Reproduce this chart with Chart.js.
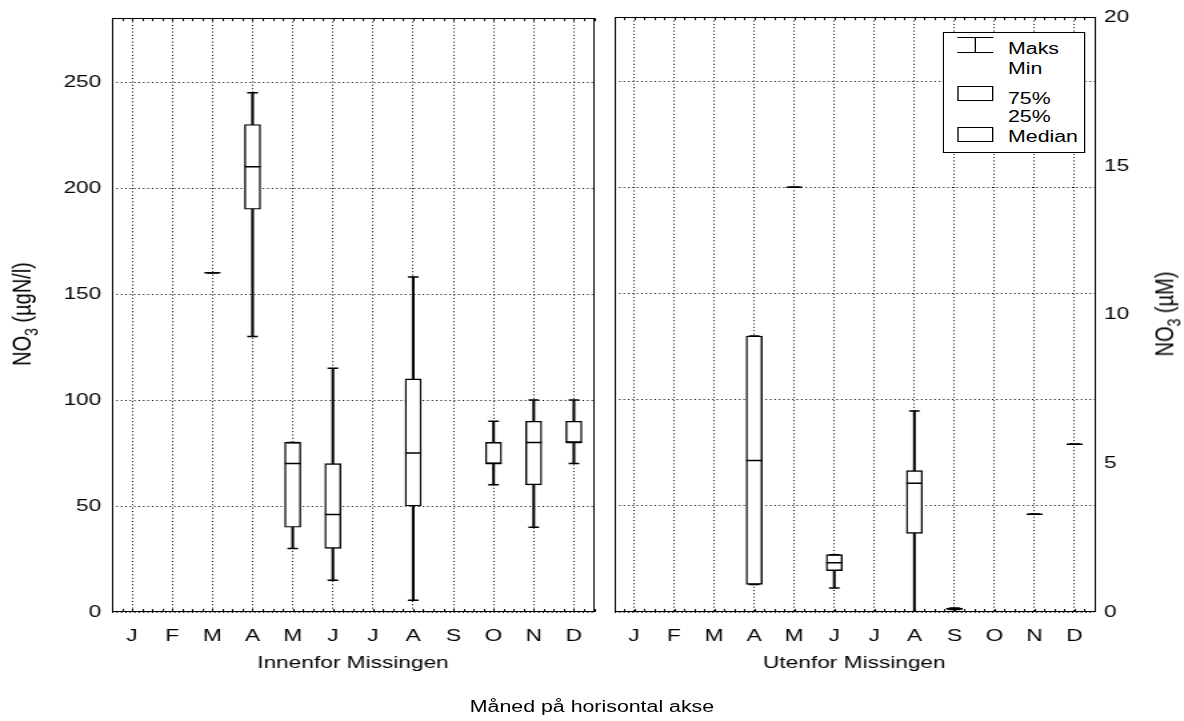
<!DOCTYPE html>
<html><head><meta charset="utf-8">
<script src="https://cdn.jsdelivr.net/npm/chart.js@4.4.0/dist/chart.umd.min.js"></script>
<style>
html,body{margin:0;padding:0;background:#fff;overflow:hidden;width:1184px;height:721px;}
#wrap{position:absolute;left:0;top:0;width:888px;height:721px;transform:scaleX(1.33333);transform-origin:0 0;font-family:'Liberation Sans',Arial,sans-serif;font-size:16px;color:#000;}
.abs{position:absolute;}
.rot{position:absolute;white-space:nowrap;transform:translate(-50%,-50%) rotate(-90deg);line-height:22px;font-size:20px;}
.sub{font-size:14px;position:relative;top:5px;}
#legend{position:absolute;left:707px;top:32px;width:107px;height:121px;border:1px solid #000;background:#fff;box-sizing:border-box;}
#legend .t{position:absolute;left:48px;line-height:19px;white-space:nowrap;}
#legend .ln{position:absolute;background:#000;}
#legend .bx{position:absolute;left:10px;width:27px;border:1px solid #000;box-sizing:border-box;background:#fff;}
</style></head><body>
<div id="wrap">
  <canvas id="cA" width="453" height="721" class="abs" style="left:0;top:0"></canvas>
  <canvas id="cB" width="435" height="721" class="abs" style="left:453px;top:0"></canvas>
  <div class="rot" style="left:17px;top:314px">NO<span class="sub">3</span> (µgN/l)</div>
  <div class="rot" style="left:874px;top:314px">NO<span class="sub">3</span> (µM)</div>
  <div class="abs" style="left:0;width:888px;top:697px;line-height:19px;text-align:center;">Måned på horisontal akse</div>
  <div id="legend">
    <div class="ln" style="left:10px;top:4px;width:27px;height:1px"></div>
    <div class="ln" style="left:10px;top:19px;width:27px;height:1px"></div>
    <div class="ln" style="left:23px;top:4px;width:1px;height:16px"></div>
    <div class="t" style="top:6px">Maks</div>
    <div class="t" style="top:26px">Min</div>
    <div class="bx" style="top:53px;height:15px"></div>
    <div class="t" style="top:56px">75%</div>
    <div class="t" style="top:74px">25%</div>
    <div class="bx" style="top:94px;height:15px"></div>
    <div class="t" style="top:94px">Median</div>
  </div>
</div>
<script>
// Categories (months) and unit conversion
const months = ['J','F','M','A','M','J','J','A','S','O','N','D'];
const UGN_PER_UM = 14.007;
const Y_MAX_UM = 20;
const yTickStep = 50;
const y2TickStep = 5;

// Innenfor Missingen (µgN/l)
const innMin = [null, null, 160, 130, 30, 15,  null, 5.5, null, 60, 40, 70];
const innQ1  = [null, null, 160, 190, 40, 30,  null, 50,  null, 70, 60, 80];
const innMed = [null, null, 160, 210, 70, 46,  null, 75,  null, 70, 80, 80];
const innQ3  = [null, null, 160, 230, 80, 70,  null, 110, null, 80, 90, 90];
const innMax = [null, null, 160, 245, 80, 115, null, 158, null, 90, 100, 100];

// Utenfor Missingen (µgN/l)
const utMin = [null, null, null, 13,   200, 11.3, null, 0,    1.2, null, 46, 79];
const utQ1  = [null, null, null, 13,   200, 19.5, null, 37,   1.2, null, 46, 79];
const utMed = [null, null, null, 71.4, 200, 23.2, null, 60.6, 1.5, null, 46, 79];
const utQ3  = [null, null, null, 130,  200, 27,   null, 66.6, 1.9, null, 46, 79];
const utMax = [null, null, null, 130,  200, 27,   null, 94.7, 1.9, null, 46, 79];

Chart.defaults.font.family = "'Liberation Sans', Arial, sans-serif";
Chart.defaults.font.size = 17;
Chart.defaults.color = '#000';

const DASH = [1, 2.33];

const framePlugin = {
  id: 'frame',
  afterDraw(chart) {
    const {ctx, chartArea: {top, bottom, left, right}, scales: {x}} = chart;
    const s = x.getPixelForValue(1) - x.getPixelForValue(0);
    ctx.save();
    ctx.strokeStyle = '#000';
    ctx.lineWidth = 1;
    ctx.beginPath();
    for (let i = 0; i < months.length; i++) {
      const c = x.getPixelForValue(i);
      for (const q of [-0.25, 0, 0.25, 0.5]) {
        const px = Math.round(c + q * s) + 0.5;
        ctx.moveTo(px, bottom); ctx.lineTo(px, bottom - 3);
        ctx.moveTo(px, top); ctx.lineTo(px, top + 3);
      }
    }
    ctx.stroke();
    ctx.strokeRect(Math.round(left) + 0.5, Math.round(top) + 0.5, Math.round(right - left) - 1, Math.round(bottom - top) - 1);
    ctx.restore();
  }
};

function boxDatasets(mn, q1, md, q3, mx) {
  const pt = {type: 'line', showLine: false, pointStyle: 'line', borderColor: '#000',
              pointBorderColor: '#000', pointBorderWidth: 1.5, backgroundColor: '#000', order: 0};
  return [
    Object.assign({label: 'Median', data: md, pointRadius: 6}, pt),
    Object.assign({label: 'Maks', data: mx, pointRadius: 4}, pt),
    Object.assign({label: 'Min', data: mn, pointRadius: 4}, pt),
    {type: 'bar', label: '25%-75%', data: q1.map((v, i) => (v != null && q3[i] > v) ? [v, q3[i]] : null),
     backgroundColor: '#fff', borderColor: '#000', borderWidth: 1.4, borderSkipped: false,
     barThickness: 12, grouped: false, order: 1},
    {type: 'bar', label: 'Min-Maks', data: mn.map((v, i) => (v != null && mx[i] > v) ? [v, mx[i]] : null),
     backgroundColor: '#000', borderWidth: 0, barThickness: 1.4, grouped: false, order: 2}
  ];
}

function xScale(title) {
  return {
    type: 'category', offset: true,
    grid: {offset: false, color: '#000', lineWidth: 1, drawTicks: false},
    border: {display: false, dash: DASH},
    ticks: {autoSkip: false, maxRotation: 0, minRotation: 0, padding: 14, color: '#000', font: {size: 17}},
    title: {display: true, text: title, color: '#000', font: {size: 17}, padding: {top: 0, bottom: 0}},
    afterFit: s => { s.height = 62; }
  };
}

const common = {
  responsive: false, animation: false, devicePixelRatio: 1, events: [],
  plugins: {legend: {display: false}, tooltip: {enabled: false}}
};

new Chart(document.getElementById('cA'), {
  type: 'bar',
  data: {labels: months, datasets: boxDatasets(innMin, innQ1, innMed, innQ3, innMax)},
  options: Object.assign({}, common, {
    layout: {padding: {top: 16, bottom: 47, left: 0, right: 4}},
    scales: {
      x: xScale('Innenfor Missingen'),
      y: {
        min: 0, max: Y_MAX_UM * UGN_PER_UM,
        ticks: {stepSize: yTickStep, includeBounds: false, padding: 8, color: '#000', font: {size: 17}},
        grid: {color: '#000', lineWidth: 1, drawTicks: false},
        border: {display: false, dash: DASH},
        afterFit: s => { s.width = 84; }
      }
    }
  }),
  plugins: [framePlugin]
});

new Chart(document.getElementById('cB'), {
  type: 'bar',
  data: {labels: months, datasets: boxDatasets(utMin, utQ1, utMed, utQ3, utMax)},
  options: Object.assign({}, common, {
    layout: {padding: {top: 16, bottom: 47, left: 0, right: 0}},
    scales: {
      x: xScale('Utenfor Missingen'),
      y: {
        position: 'left', min: 0, max: Y_MAX_UM * UGN_PER_UM,
        ticks: {display: false, stepSize: yTickStep, includeBounds: false},
        grid: {color: '#000', lineWidth: 1, drawTicks: false},
        border: {display: false, dash: DASH},
        afterFit: s => { s.width = 3.5; }
      },
      y2: {
        position: 'right', min: 0, max: Y_MAX_UM,
        ticks: {stepSize: y2TickStep, padding: 7, color: '#000', font: {size: 17}},
        grid: {display: false, drawTicks: false},
        border: {display: false},
        afterFit: s => { s.width = 67; }
      }
    }
  }),
  plugins: [framePlugin]
});
</script>
</body></html>
